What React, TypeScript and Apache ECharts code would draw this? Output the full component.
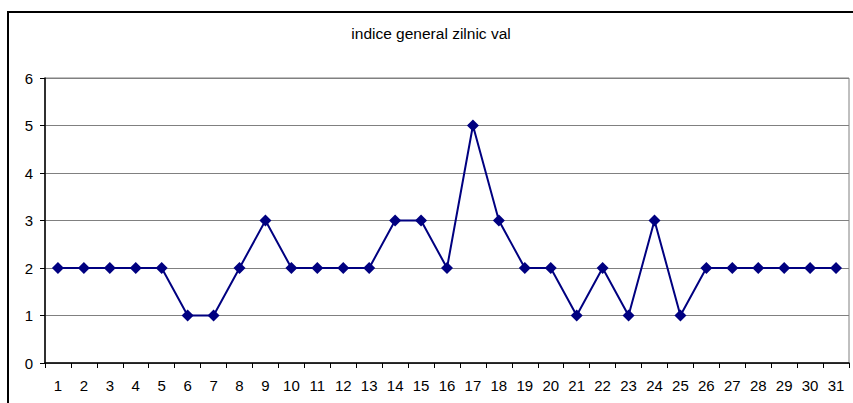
import React, { useEffect, useRef } from "react";
import * as echarts from "echarts";

const categories = Array.from({ length: 31 }, (_, i) => String(i + 1));
const values = [2, 2, 2, 2, 2, 1, 1, 2, 3, 2, 2, 2, 2, 3, 3, 2, 5, 3, 2, 2, 1, 2, 1, 3, 1, 2, 2, 2, 2, 2, 2];
const titleText = "indice general zilnic val";

export default function App() {
  const ref = useRef<HTMLDivElement>(null);
  useEffect(() => {
    if (!ref.current) return;
    const chart = echarts.init(ref.current, undefined, { renderer: "svg" });
    const font = "Arial, 'Liberation Sans', sans-serif";
    chart.setOption({
      animation: false,
      backgroundColor: "#ffffff",
      graphic: [
        {
          type: "rect",
          shape: { x: 8, y: 12, width: 1000, height: 600 },
          style: { fill: "none", stroke: "#000", lineWidth: 2 },
          silent: true,
        },
        {
          type: "text",
          x: 431,
          y: 33,
          style: {
            text: titleText,
            fill: "#000",
            font: `15.5px ${font}`,
            textAlign: "center",
            textVerticalAlign: "middle",
          },
        },
      ],
      grid: {
        left: 45,
        top: 78,
        right: 4,
        bottom: 40,
        show: true,
        borderColor: "#808080",
        borderWidth: 1,
      },
      xAxis: {
        type: "category",
        data: categories,
        boundaryGap: true,
        axisLine: { lineStyle: { color: "#000", width: 1.5 } },
        axisTick: { show: true, length: 5, lineStyle: { color: "#000" }, interval: 0 },
        axisLabel: { color: "#000", fontSize: 15, fontFamily: font, margin: 15, interval: 0 },
        splitLine: { show: false },
      },
      yAxis: {
        type: "value",
        min: 0,
        max: 6,
        interval: 1,
        axisLine: { show: true, lineStyle: { color: "#000", width: 1.5 } },
        axisTick: { show: true, length: 5, lineStyle: { color: "#000" } },
        axisLabel: { color: "#000", fontSize: 15, fontFamily: font, margin: 12 },
        splitLine: { show: true, lineStyle: { color: "#808080", width: 1 } },
      },
      series: [
        {
          type: "line",
          data: values,
          symbol: "diamond",
          symbolSize: 12,
          lineStyle: { color: "#000080", width: 2 },
          itemStyle: { color: "#000080" },
        },
      ],
    });
    return () => chart.dispose();
  }, []);
  return (
    <div
      ref={ref}
      style={{ position: "absolute", left: 0, top: 0, width: 853, height: 403 }}
    />
  );
}
